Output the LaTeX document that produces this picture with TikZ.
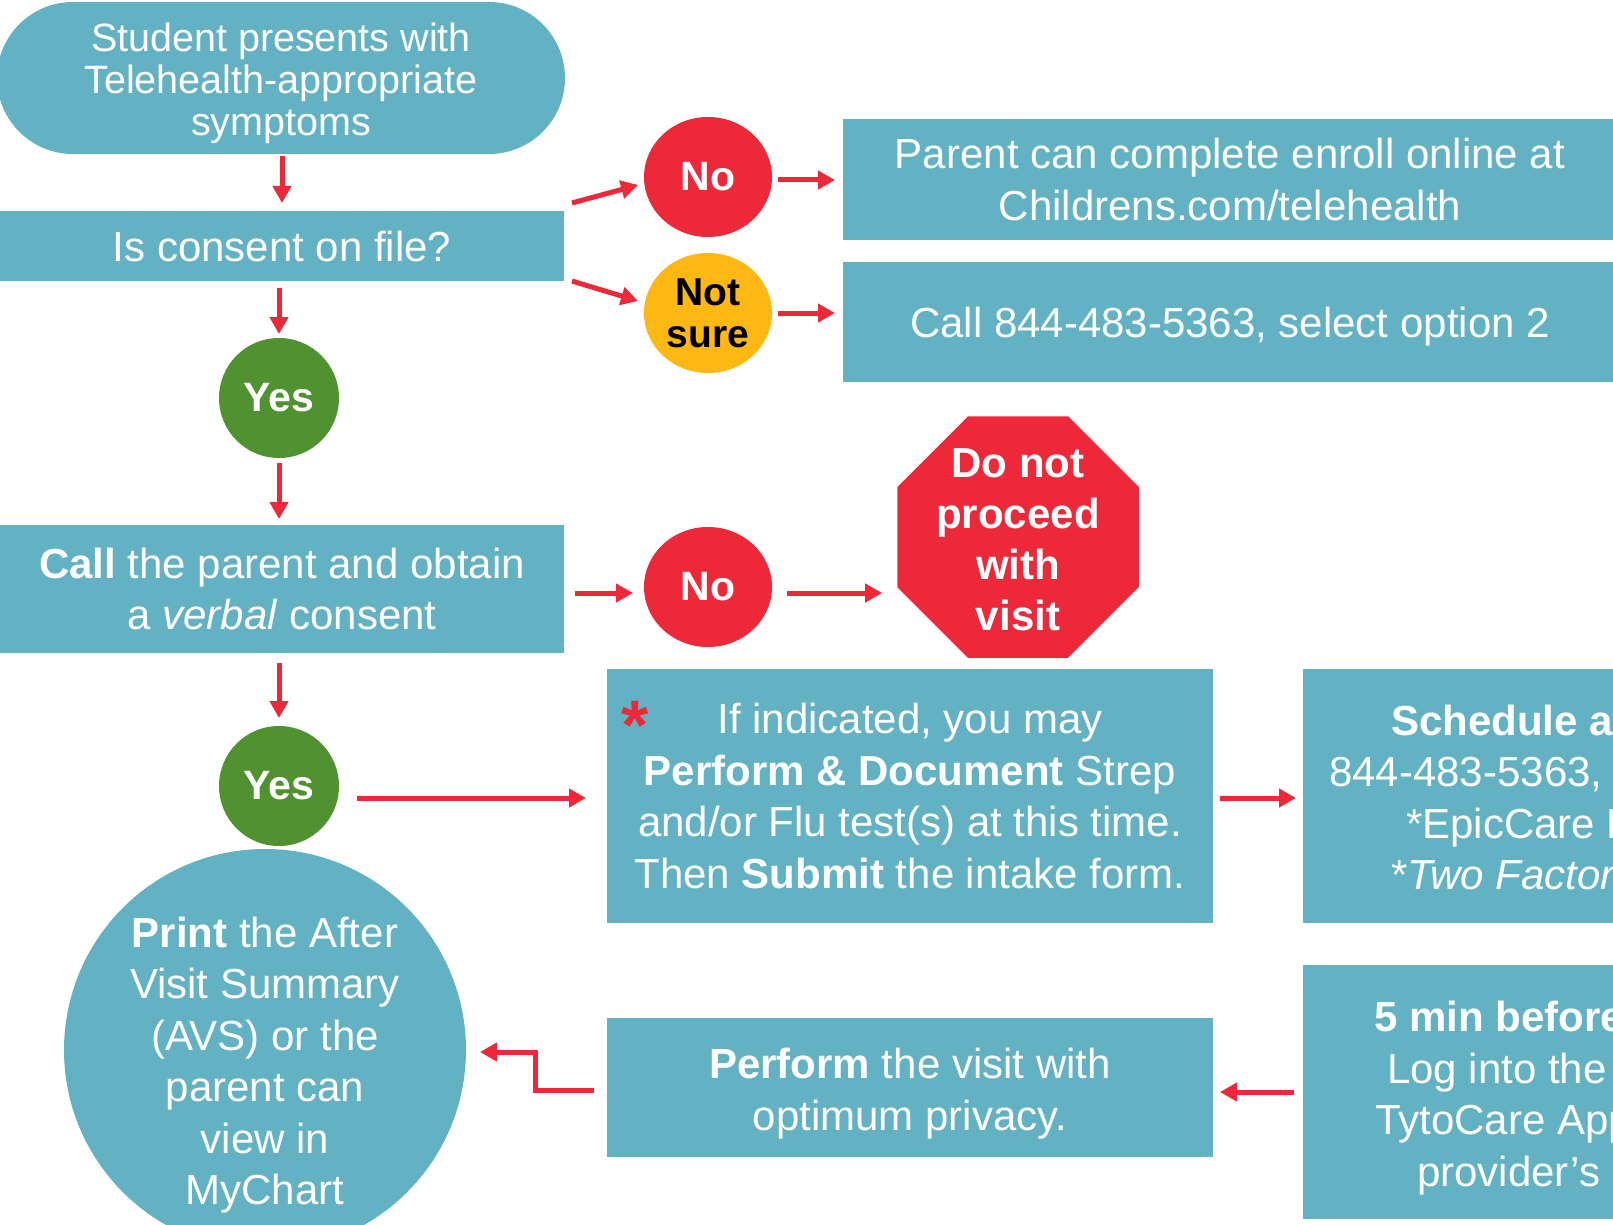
\documentclass[tikz,border=0pt]{standalone}
\usepackage{fontspec}
\setmainfont{Liberation Sans}
\usetikzlibrary{shapes.geometric,shapes.misc,arrows.meta,calc}
\definecolor{tealbox}{RGB}{99,178,196}
\definecolor{redc}{RGB}{237,41,57}
\definecolor{greenc}{RGB}{80,146,48}
\definecolor{yellowc}{RGB}{253,184,19}
\tikzset{
  box/.style={rectangle, fill=tealbox, draw=none, inner sep=0pt, outer sep=0pt, text=white, align=center, font=\fontsize{42}{51.5}\selectfont},
  txt/.style={text=white, inner sep=0pt, font=\fontsize{42}{51.5}\selectfont},
  arr/.style={draw=redc, line width=5pt, -{Triangle[length=17pt,width=18pt]}},
  badge/.style={ellipse, inner sep=0pt, outer sep=0pt, minimum width=128pt, minimum height=120pt, align=center, font=\fontsize{41}{42}\selectfont\bfseries},
  yesc/.style={circle, fill=greenc, inner sep=0pt, outer sep=0pt, minimum size=120pt, text=white, font=\fontsize{41}{42}\selectfont\bfseries},
  lbl/.style={text=white, align=center, inner sep=0pt, font=\fontsize{42}{51.5}\selectfont}
}
\begin{document}
\begin{tikzpicture}[x=1pt,y=-1pt]
\useasboundingbox (0,0) rectangle (1613,1225);
\clip (0,0) rectangle (1613,1225);
\fill[white] (0,0) rectangle (1613,1225);

% left column
\node[rounded rectangle, fill=tealbox, inner sep=0pt, outer sep=0pt, minimum width=568pt, minimum height=152pt,
  label={[lbl, font=\fontsize{39.5}{42}\selectfont, yshift=-5.5pt]center:Student presents with\\Telehealth-appropriate\\symptoms}] (start) at (281,78) {};
\node[box, minimum width=564pt, minimum height=70pt] (consent) at (282,246) {Is consent on file?};
\node[yesc] (yes1) at (279,398) {Yes};
\node[box, minimum width=564pt, minimum height=128pt] (callp) at (282,589) {\textbf{Call} the parent and obtain\\a \textit{verbal} consent};
\node[yesc] (yes2) at (279,786) {Yes};
\node[circle, fill=tealbox, inner sep=0pt, outer sep=0pt, minimum size=402pt,
  label={[lbl, yshift=-15pt]center:\textbf{Print} the After\\Visit Summary\\(AVS) or the\\parent can\\view in\\MyChart}] (avs) at (265,1050) {};

% consent branches
\node[badge, fill=redc, text=white] (no1) at (708,177) {No};
\node[badge, fill=yellowc, text=black, font=\fontsize{39}{42}\selectfont\bfseries] (ns) at (708,313) {Not\\sure};
\node[box, minimum width=774pt, minimum height=121pt] (enroll) at (1230,179.5) {Parent can complete enroll online at\\Childrens.com/telehealth};
\node[box, minimum width=774pt, minimum height=120pt,
  label={[lbl, yshift=-5pt]center:Call 844-483-5363, select option 2}] (phone) at (1230,322) {};

% verbal consent branch
\node[badge, fill=redc, text=white] (no2) at (708,587) {No};
\node[regular polygon, regular polygon sides=8, minimum size=261.4pt, inner sep=0pt, outer sep=0pt, fill=redc,
  label={[lbl, font=\fontsize{42}{51}\selectfont\bfseries, yshift=-3pt]center:Do not\\proceed\\with\\visit}] (stop) at (1018,537) {};

% middle row
\node[box, minimum width=606pt, minimum height=254pt] (tests) at (910,796) {If indicated, you may\\\textbf{Perform \& Document} Strep\\and/or Flu test(s) at this time.\\Then \textbf{Submit} the intake form.};
\node[text=redc, inner sep=0pt, font=\fontsize{70}{70}\selectfont\bfseries] (ast) at (635,725) {*};
\node[box, minimum width=620pt, minimum height=254pt, anchor=north west] (sched) at (1303,669) {};
\node[txt, anchor=base west, font=\fontsize{42}{51.5}\selectfont\bfseries] (s1) at (1391,735) {Schedule a};
\node[txt, anchor=base west] (s2) at (1329,786) {844-483-5363,};
\node[txt, anchor=base west] (s3) at (1406,838) {*EpicCare L};
\node[txt, anchor=base west] (s4) at (1391,889) {*\textit{Two Factor}};

% bottom row
\node[box, minimum width=606pt, minimum height=139pt,
  label={[lbl, yshift=-6pt]center:\textbf{Perform} the visit with\\optimum privacy.}] (perform) at (910,1087.5) {};
\node[box, minimum width=620pt, minimum height=254pt, anchor=north west] (fivemin) at (1303,965) {};
\node[txt, anchor=base west, font=\fontsize{42}{51.5}\selectfont\bfseries] (f1) at (1374,1031) {5 min before};
\node[txt, anchor=base west] (f2) at (1387,1083) {Log into the};
\node[txt, anchor=base west] (f3) at (1375,1134) {TytoCare App};
\node[txt, anchor=base west] (f4) at (1417,1186) {provider’s};

% connectors
\draw[arr, shorten <=2pt, shorten >=8pt] (start.south -| consent.north) -- (consent.north);
\draw[arr, shorten <=7pt, shorten >=4pt] (consent.south -| yes1) -- (yes1.north);
\draw[arr, shorten <=5pt, shorten >=6pt] (yes1.south) -- (yes1.south |- callp.north);
\draw[arr, shorten <=10pt, shorten >=8pt] (callp.south -| yes2) -- (yes2.north);
\draw[arr] ([shift={(8,-43)}]consent.east) -- ([shift={(-6,8)}]no1.west);
\draw[arr] ([shift={(8,0)}]consent.south east) -- ([shift={(-6,-12)}]ns.west);
\draw[arr, shorten <=6pt, shorten >=8pt] ([yshift=-3pt]no1.east) -- ([yshift=-3pt]no1.east -| enroll.west);
\draw[arr, shorten <=6pt, shorten >=8pt] (ns.east) -- (ns.east -| phone.west);
\draw[arr, shorten <=11pt, shorten >=11pt] ([yshift=-4pt]callp.east) -- ([yshift=-4pt]callp.east -| no2.west);
\draw[arr, shorten <=15pt, shorten >=15pt] ([yshift=-6pt]no2.east) -- ([yshift=-6pt]no2.east -| stop.west);
\draw[arr, shorten <=18pt, shorten >=21pt] ([yshift=-2pt]yes2.east |- tests.west) -- ([yshift=-2pt]tests.west);
\draw[arr, shorten <=7pt, shorten >=7pt] ([yshift=-2pt]tests.east) -- ([yshift=-2pt]tests.east -| sched.west);
\draw[arr, shorten <=9pt, shorten >=7pt] ([yshift=-4.5pt]perform.east -| fivemin.west) -- ([yshift=-4.5pt]perform.east);
\draw[arr] ([shift={(-13,2.5)}]perform.west) -- ++(-59,0) |- ([shift={(14,2)}]avs.east);
\end{tikzpicture}
\end{document}
